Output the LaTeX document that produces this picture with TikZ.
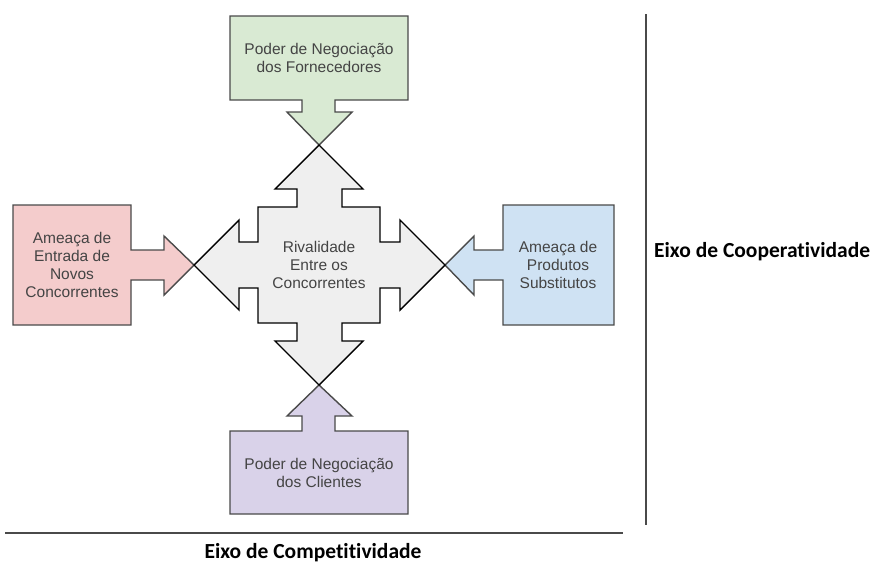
\documentclass[tikz,border=0pt]{standalone}
\usepackage{fontspec}
\setmainfont{Liberation Sans}
\newfontfamily\axisfont[Ligatures=NoCommon]{Carlito}
\usetikzlibrary{positioning}

\definecolor{forngreen}{HTML}{D9EAD3}
\definecolor{novospink}{HTML}{F4CCCC}
\definecolor{substblue}{HTML}{CFE2F3}
\definecolor{clientpurple}{HTML}{D9D2E9}
\definecolor{rivalgray}{HTML}{EFEFEF}
\definecolor{boxline}{HTML}{4A4A4A}
\definecolor{boxtext}{HTML}{444444}

\begin{document}
\begin{tikzpicture}[x=1pt, y=-1pt,
    forcebox/.style={draw=boxline, line width=1.4pt, line join=miter},
    forcetext/.style={align=center, text=boxtext, inner sep=0pt,
      font=\fontsize{15.5}{18}\selectfont},
    axisline/.style={draw=boxline, line width=1.4pt},
    axislabel/.style={font=\axisfont\bfseries\fontsize{21.5}{24}\selectfont, inner sep=0pt}]
      \useasboundingbox (0,0) rectangle (883,566);

      % Draw the supplier box with its arrow
      \draw[forcebox, fill=forngreen] (230,16) -- (408,16) -- (408,100) -- (335,100)
        -- (335,112) -- (352,112) -- (319,145) -- (287,112) -- (302,112)
        -- (302,100) -- (230,100) -- cycle;
      \node[forcetext] (forn) at (319,58) {Poder de Negociação\\dos Fornecedores};

      % Draw the new entrants box with its arrow
      \draw[forcebox, fill=novospink] (13,205) -- (131,205) -- (131,250) -- (164,250)
        -- (164,236) -- (194,265) -- (164,295) -- (164,280) -- (131,280)
        -- (131,325) -- (13,325) -- cycle;
      \node[forcetext] (novos) at (72,265) {Ameaça de\\Entrada de\\Novos\\Concorrentes};

      % Draw the substitutes box with its arrow
      \draw[forcebox, fill=substblue] (614,205) -- (503,205) -- (503,250) -- (474,250)
        -- (474,236) -- (445,265) -- (474,295) -- (474,280) -- (503,280)
        -- (503,325) -- (614,325) -- cycle;
      \node[forcetext] (subst) at (558,265) {Ameaça de\\Produtos\\Substitutos};

      % Draw the clients box with its arrow
      \draw[forcebox, fill=clientpurple] (230,514) -- (408,514) -- (408,431) -- (335,431)
        -- (335,416) -- (352,416) -- (319,385) -- (287,416) -- (302,416)
        -- (302,431) -- (230,431) -- cycle;
      \node[forcetext] (clientes) at (319,473) {Poder de Negociação\\dos Clientes};

      % Draw the four-way arrow in the middle
      \draw[forcebox, draw=black, fill=rivalgray] (319,145) -- (363,189) -- (342,189)
        -- (342,207) -- (380,207) -- (380,242) -- (400,242) -- (400,220)
        -- (445,265) -- (400,310) -- (400,288) -- (380,288) -- (380,323)
        -- (342,323) -- (342,341) -- (363,341) -- (319,385) -- (275,341)
        -- (297,341) -- (297,323) -- (258,323) -- (258,288) -- (239,288)
        -- (239,310) -- (194,265) -- (239,220) -- (239,242) -- (258,242)
        -- (258,207) -- (297,207) -- (297,189) -- (275,189) -- cycle;
      \node[forcetext] (rival) at (319,265) {Rivalidade\\Entre os\\Concorrentes};

      % Draw the two axes
      \coordinate (coopTop) at (646,14);
      \coordinate (coopBot) at (646,525);
      \coordinate (compL) at (5,533);
      \coordinate (compR) at (623,533);
      \draw[axisline] (coopTop) -- (coopBot);
      \draw[axisline] (compL) -- (compR);

      \node[axislabel, anchor=west] (eixocoop) at (654,252) {Eixo de Cooperatividade};
      \node[axislabel] (eixocomp) at (313,553) {Eixo de Competitividade};

    \end{tikzpicture}
\end{document}
